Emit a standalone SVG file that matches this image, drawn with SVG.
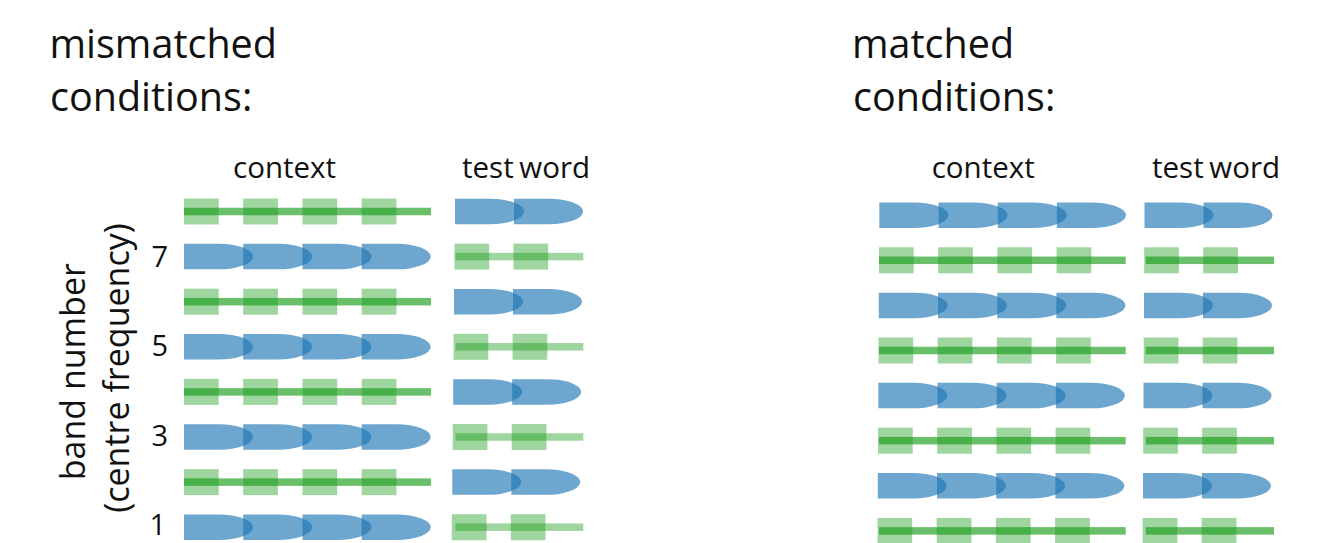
<svg xmlns="http://www.w3.org/2000/svg" xmlns:xlink="http://www.w3.org/1999/xlink" width="1321" height="543" viewBox="0 0 1321 543">
<style>
  text { font-family: "Open Sans", "Noto Sans", "DejaVu Sans", sans-serif; fill: #111; }
  .title { font-size: 39.5px; }
  .lab { font-size: 29.5px; }
  .tw { word-spacing: -2px; }
  .axis { font-size: 34px; }
  .num { font-size: 29px; }
  .b { fill: #1f77b4; fill-opacity: 0.65; }
  .sq { fill: #1a9c1a; fill-opacity: 0.42; }
  .ld { fill: #1a9c1a; fill-opacity: 0.65; }
  .ll { fill: #1a9c1a; fill-opacity: 0.42; }
</style>
<defs>
  <path id="bul" d="M0,-12.75 H35 A34,12.75 0 0 1 35,12.75 H0 Z"/>
  <rect id="sqr" x="0" y="-13" width="34.7" height="26"/>
</defs>
<rect width="1321" height="543" fill="#fff"/>

<g id="title-mismatched">
  <text class="title" x="49.5" y="58.3">mismatched</text>
  <text class="title" x="50" y="111">conditions:</text>
</g>
<g id="title-matched">
  <text class="title" x="852" y="57.7">matched</text>
  <text class="title" x="853" y="111">conditions:</text>
</g>
<g id="labels-left">
  <text class="lab" x="233" y="178.3">context</text>
  <text class="lab tw" x="462" y="178.3">test word</text>
</g>
<g id="labels-right">
  <text class="lab" x="931.7" y="178.3">context</text>
  <text class="lab tw" x="1152" y="178.3">test word</text>
</g>
<g id="axis-label">
  <text class="axis" text-anchor="middle" transform="translate(85,371.7) rotate(-90)">band number</text>
  <text class="axis" text-anchor="middle" transform="translate(128.5,368) rotate(-90)">(centre frequency)</text>
</g>
<g id="band-numbers">
  <text class="num" text-anchor="end" x="168" y="267">7</text>
  <text class="num" text-anchor="end" x="168" y="356">5</text>
  <text class="num" text-anchor="end" x="168" y="446">3</text>
  <text class="num" text-anchor="end" x="166" y="535">1</text>
</g>

<g id="connectors"/>

<!-- mismatched: context -->
<g id="mis-context-band8">
  <rect class="ld" x="184" y="207.75" width="247" height="7.5"/>
  <use href="#sqr" class="sq" x="184" y="211.5"/><use href="#sqr" class="sq" x="243.2" y="211.5"/><use href="#sqr" class="sq" x="302.5" y="211.5"/><use href="#sqr" class="sq" x="361.7" y="211.5"/>
</g>
<g id="mis-context-band7">
  <use href="#bul" class="b" x="184" y="256.6"/><use href="#bul" class="b" x="243.2" y="256.6"/><use href="#bul" class="b" x="302.5" y="256.6"/><use href="#bul" class="b" x="361.7" y="256.6"/>
</g>
<g id="mis-context-band6">
  <rect class="ld" x="184" y="297.95" width="247" height="7.5"/>
  <use href="#sqr" class="sq" x="184" y="301.7"/><use href="#sqr" class="sq" x="243.2" y="301.7"/><use href="#sqr" class="sq" x="302.5" y="301.7"/><use href="#sqr" class="sq" x="361.7" y="301.7"/>
</g>
<g id="mis-context-band5">
  <use href="#bul" class="b" x="184" y="346.8"/><use href="#bul" class="b" x="243.2" y="346.8"/><use href="#bul" class="b" x="302.5" y="346.8"/><use href="#bul" class="b" x="361.7" y="346.8"/>
</g>
<g id="mis-context-band4">
  <rect class="ld" x="184" y="388.15" width="247" height="7.5"/>
  <use href="#sqr" class="sq" x="184" y="391.9"/><use href="#sqr" class="sq" x="243.2" y="391.9"/><use href="#sqr" class="sq" x="302.5" y="391.9"/><use href="#sqr" class="sq" x="361.7" y="391.9"/>
</g>
<g id="mis-context-band3">
  <use href="#bul" class="b" x="184" y="437"/><use href="#bul" class="b" x="243.2" y="437"/><use href="#bul" class="b" x="302.5" y="437"/><use href="#bul" class="b" x="361.7" y="437"/>
</g>
<g id="mis-context-band2">
  <rect class="ld" x="184" y="478.35" width="247" height="7.5"/>
  <use href="#sqr" class="sq" x="184" y="482.1"/><use href="#sqr" class="sq" x="243.2" y="482.1"/><use href="#sqr" class="sq" x="302.5" y="482.1"/><use href="#sqr" class="sq" x="361.7" y="482.1"/>
</g>
<g id="mis-context-band1">
  <use href="#bul" class="b" x="184" y="527.2"/><use href="#bul" class="b" x="243.2" y="527.2"/><use href="#bul" class="b" x="302.5" y="527.2"/><use href="#bul" class="b" x="361.7" y="527.2"/>
</g>

<!-- mismatched: test word -->
<g id="mis-test-band8">
  <use href="#bul" class="b" x="455" y="211.5"/><use href="#bul" class="b" x="514" y="211.5"/>
</g>
<g id="mis-test-band7">
  <rect class="ll" x="455.5" y="252.85" width="127.8" height="7.5"/>
  <use href="#sqr" class="sq" x="454.5" y="256.6"/><use href="#sqr" class="sq" x="513.5" y="256.6"/>
</g>
<g id="mis-test-band6">
  <use href="#bul" class="b" x="454" y="301.7"/><use href="#bul" class="b" x="513" y="301.7"/>
</g>
<g id="mis-test-band5">
  <rect class="ll" x="455.5" y="343.05" width="127.8" height="7.5"/>
  <use href="#sqr" class="sq" x="453.6" y="346.8"/><use href="#sqr" class="sq" x="512.6" y="346.8"/>
</g>
<g id="mis-test-band4">
  <use href="#bul" class="b" x="453.2" y="391.9"/><use href="#bul" class="b" x="512.2" y="391.9"/>
</g>
<g id="mis-test-band3">
  <rect class="ll" x="455.5" y="433.25" width="127.8" height="7.5"/>
  <use href="#sqr" class="sq" x="452.7" y="437"/><use href="#sqr" class="sq" x="511.7" y="437"/>
</g>
<g id="mis-test-band2">
  <use href="#bul" class="b" x="452.3" y="482.1"/><use href="#bul" class="b" x="511.3" y="482.1"/>
</g>
<g id="mis-test-band1">
  <rect class="ll" x="455.5" y="523.45" width="127.8" height="7.5"/>
  <use href="#sqr" class="sq" x="451.8" y="527.2"/><use href="#sqr" class="sq" x="510.8" y="527.2"/>
</g>

<!-- matched: context -->
<g id="mat-context-band8">
  <use href="#bul" class="b" x="879.3" y="215.2"/><use href="#bul" class="b" x="938.5" y="215.2"/><use href="#bul" class="b" x="997.7" y="215.2"/><use href="#bul" class="b" x="1056.9" y="215.2"/>
</g>
<g id="mat-context-band7">
  <rect class="ld" x="879" y="256.55" width="246.7" height="7.5"/>
  <use href="#sqr" class="sq" x="879" y="260.3"/><use href="#sqr" class="sq" x="938.2" y="260.3"/><use href="#sqr" class="sq" x="997.4" y="260.3"/><use href="#sqr" class="sq" x="1056.6" y="260.3"/>
</g>
<g id="mat-context-band6">
  <use href="#bul" class="b" x="878.8" y="305.4"/><use href="#bul" class="b" x="938" y="305.4"/><use href="#bul" class="b" x="997.2" y="305.4"/><use href="#bul" class="b" x="1056.4" y="305.4"/>
</g>
<g id="mat-context-band5">
  <rect class="ld" x="879" y="346.75" width="246.7" height="7.5"/>
  <use href="#sqr" class="sq" x="878.5" y="350.5"/><use href="#sqr" class="sq" x="937.7" y="350.5"/><use href="#sqr" class="sq" x="996.9" y="350.5"/><use href="#sqr" class="sq" x="1056.1" y="350.5"/>
</g>
<g id="mat-context-band4">
  <use href="#bul" class="b" x="878.3" y="395.6"/><use href="#bul" class="b" x="937.5" y="395.6"/><use href="#bul" class="b" x="996.7" y="395.6"/><use href="#bul" class="b" x="1055.9" y="395.6"/>
</g>
<g id="mat-context-band3">
  <rect class="ld" x="879" y="436.95" width="246.7" height="7.5"/>
  <use href="#sqr" class="sq" x="878" y="440.7"/><use href="#sqr" class="sq" x="937.2" y="440.7"/><use href="#sqr" class="sq" x="996.4" y="440.7"/><use href="#sqr" class="sq" x="1055.6" y="440.7"/>
</g>
<g id="mat-context-band2">
  <use href="#bul" class="b" x="877.8" y="485.8"/><use href="#bul" class="b" x="937" y="485.8"/><use href="#bul" class="b" x="996.2" y="485.8"/><use href="#bul" class="b" x="1055.4" y="485.8"/>
</g>
<g id="mat-context-band1">
  <rect class="ld" x="879" y="527.15" width="246.7" height="7.5"/>
  <use href="#sqr" class="sq" x="877.5" y="530.9"/><use href="#sqr" class="sq" x="936.7" y="530.9"/><use href="#sqr" class="sq" x="995.9" y="530.9"/><use href="#sqr" class="sq" x="1055.1" y="530.9"/>
</g>

<!-- matched: test word -->
<g id="mat-test-band8">
  <use href="#bul" class="b" x="1144.5" y="215.2"/><use href="#bul" class="b" x="1203.5" y="215.2"/>
</g>
<g id="mat-test-band7">
  <rect class="ld" x="1145.7" y="256.55" width="128.3" height="7.5"/>
  <use href="#sqr" class="sq" x="1144.2" y="260.3"/><use href="#sqr" class="sq" x="1203.2" y="260.3"/>
</g>
<g id="mat-test-band6">
  <use href="#bul" class="b" x="1144" y="305.4"/><use href="#bul" class="b" x="1203" y="305.4"/>
</g>
<g id="mat-test-band5">
  <rect class="ld" x="1145.7" y="346.75" width="128.3" height="7.5"/>
  <use href="#sqr" class="sq" x="1143.7" y="350.5"/><use href="#sqr" class="sq" x="1202.7" y="350.5"/>
</g>
<g id="mat-test-band4">
  <use href="#bul" class="b" x="1143.5" y="395.6"/><use href="#bul" class="b" x="1202.5" y="395.6"/>
</g>
<g id="mat-test-band3">
  <rect class="ld" x="1145.7" y="436.95" width="128.3" height="7.5"/>
  <use href="#sqr" class="sq" x="1143.2" y="440.7"/><use href="#sqr" class="sq" x="1202.2" y="440.7"/>
</g>
<g id="mat-test-band2">
  <use href="#bul" class="b" x="1143" y="485.8"/><use href="#bul" class="b" x="1202" y="485.8"/>
</g>
<g id="mat-test-band1">
  <rect class="ld" x="1145.7" y="527.15" width="128.3" height="7.5"/>
  <use href="#sqr" class="sq" x="1142.7" y="530.9"/><use href="#sqr" class="sq" x="1201.7" y="530.9"/>
</g>
</svg>
